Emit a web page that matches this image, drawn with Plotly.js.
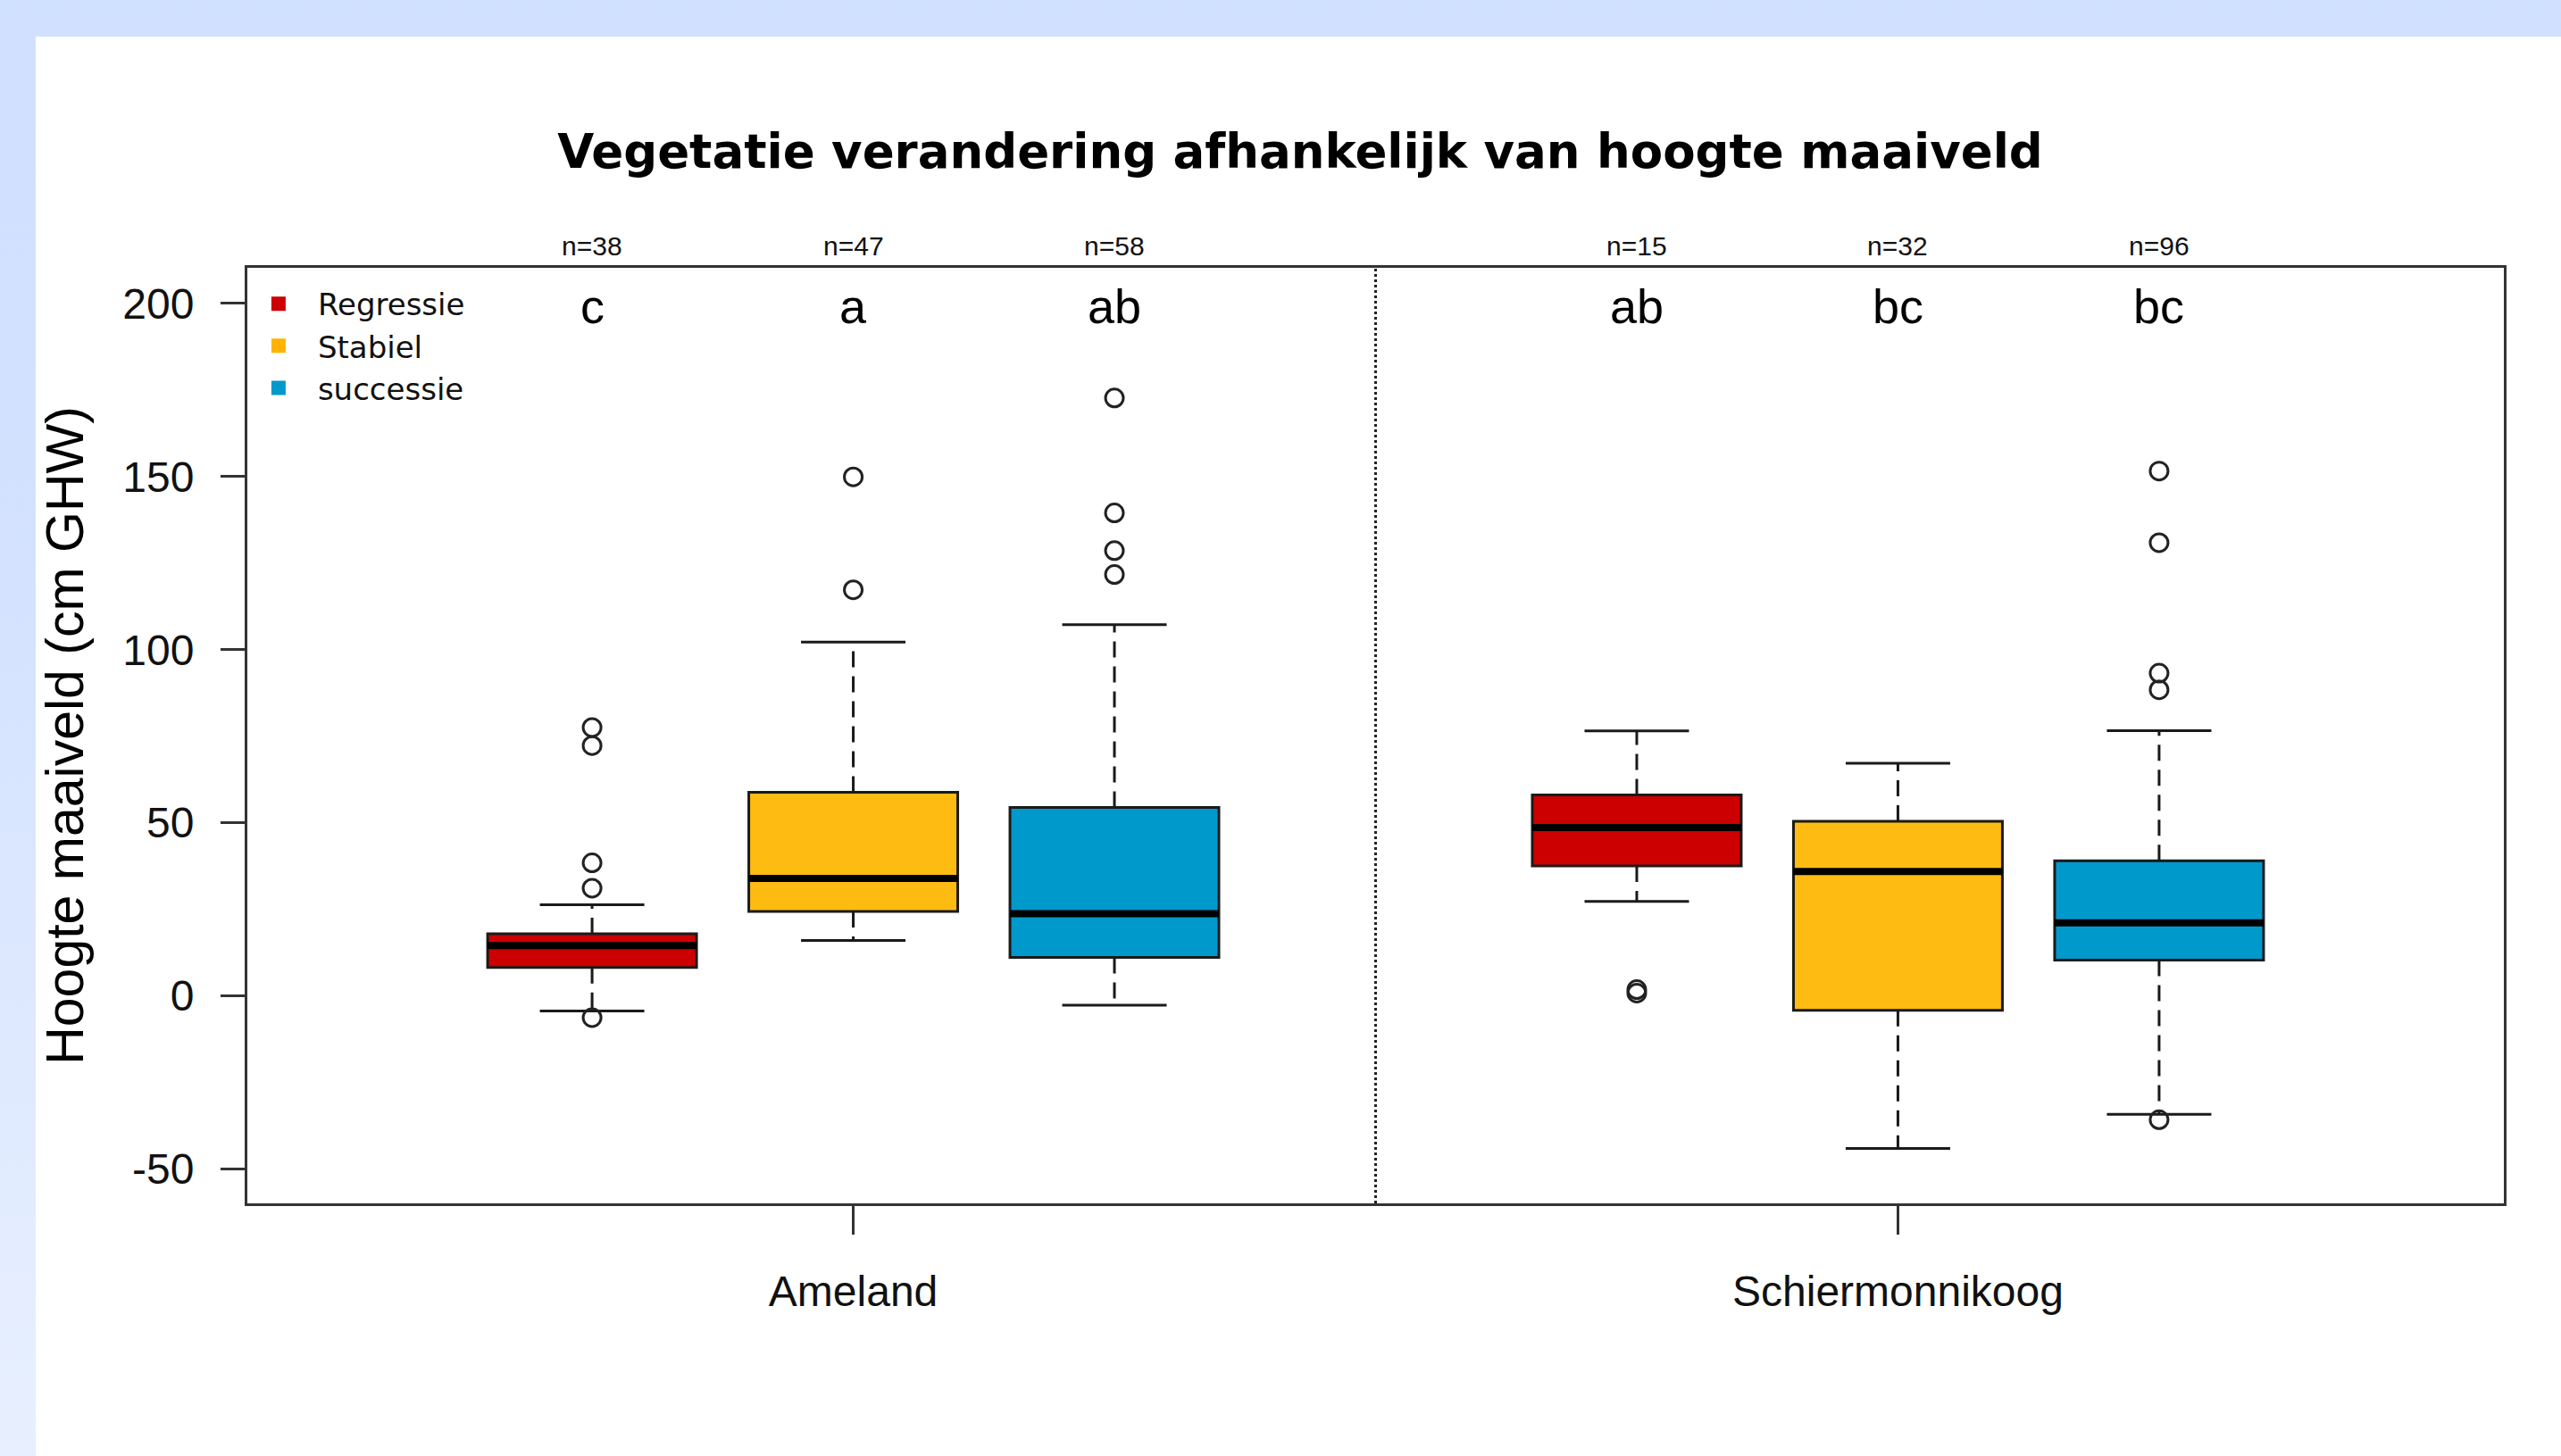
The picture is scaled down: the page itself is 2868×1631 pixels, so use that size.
<!DOCTYPE html>
<html>
<head>
<meta charset="utf-8">
<script src="https://cdn.plot.ly/plotly-3.0.1.min.js"></script>
<style>
  html, body { margin: 0; padding: 0; width: 2868px; height: 1631px; overflow: hidden;
    background: linear-gradient(to bottom, #d0e0ff 0%, #d4e2ff 40%, #e8f0ff 100%); }
  #chart { position: absolute; left: 40px; top: 41px; width: 2828px; height: 1590px; background: #fff; }
</style>
</head>
<body>
<div id="chart"></div>
<script>
// ---- data ----
const classes = ['Regressie', 'Stabiel', 'successie'];
const islands = ['Ameland', 'Schiermonnikoog'];
// rows = classes, columns = islands
const lowerWhisker = [[-4.4, 27.3], [16.0, -44.1], [-2.7, -34.2]];
const q1           = [[8.2, 37.5], [24.4, -4.2], [11.1, 10.3]];
const median       = [[14.5, 48.6], [33.9, 35.9], [23.7, 21.1]];
const q3           = [[17.9, 58.0], [58.8, 50.4], [54.4, 39.0]];
const upperWhisker = [[26.3, 76.5], [102.2, 67.2], [107.2, 76.6]];
const outliers = [
  [[77.5, 72.3, 38.4, 31.1, -6.3], [1.8, 0.8]],
  [[149.9, 117.3], []],
  [[172.7, 139.5, 128.6, 121.7], [151.6, 130.9, 93.2, 88.4, -35.8]]
];
const nObs = [[38, 15], [47, 32], [58, 96]];
const letters = [['c', 'ab'], ['a', 'bc'], ['ab', 'bc']];
const yTicks = [-50, 0, 50, 100, 150, 200];

// ---- styling ----
const colors = ['#CC0000', '#FEBB12', '#0099CC'];
const legendColors = ['#CC0000', '#FFB300', '#0099CC'];
const boxWidth = 0.8;
const capHalf = 0.2;
const sans = 'Liberation Sans, Arial, sans-serif';
const verd = 'DejaVu Sans, Verdana, sans-serif';

function pos(ci, ii) { return ii * (classes.length + 1) + 1 + ci; }
const islandPos = islands.map((_, ii) => ii * (classes.length + 1) + 1 + (classes.length - 1) / 2);

const traces = [];
// boxes (drawn first so that scatter overlays sit above)
classes.forEach((c, ci) => {
  traces.push({
    type: 'box', name: c, showlegend: false,
    x: islands.map((_, ii) => pos(ci, ii)),
    q1: q1[ci], median: median[ci], q3: q3[ci],
    lowerfence: q1[ci], upperfence: q3[ci],
    width: boxWidth, whiskerwidth: 0,
    fillcolor: colors[ci],
    line: { color: '#1a1a1a', width: 3 },
    boxpoints: false, hoverinfo: 'skip'
  });
});

// dashed whiskers, caps, medians, outliers
const wx = [], wy = [], cx = [], cy = [], mx = [], my = [], ox = [], oy = [];
classes.forEach((c, ci) => {
  islands.forEach((isl, ii) => {
    const p = pos(ci, ii);
    wx.push(p, p, null, p, p, null);
    wy.push(q3[ci][ii], upperWhisker[ci][ii], null, q1[ci][ii], lowerWhisker[ci][ii], null);
    cx.push(p - capHalf, p + capHalf, null, p - capHalf, p + capHalf, null);
    cy.push(upperWhisker[ci][ii], upperWhisker[ci][ii], null, lowerWhisker[ci][ii], lowerWhisker[ci][ii], null);
    mx.push(p - boxWidth / 2, p + boxWidth / 2, null);
    my.push(median[ci][ii], median[ci][ii], null);
    outliers[ci][ii].forEach(v => { ox.push(p); oy.push(v); });
  });
});
traces.push({ type: 'scatter', mode: 'lines', x: wx, y: wy, showlegend: false, hoverinfo: 'skip',
  line: { color: '#1a1a1a', width: 3, dash: '18px,10px' } });
traces.push({ type: 'scatter', mode: 'lines', x: cx, y: cy, showlegend: false, hoverinfo: 'skip',
  line: { color: '#1a1a1a', width: 3 } });
traces.push({ type: 'scatter', mode: 'lines', x: mx, y: my, showlegend: false, hoverinfo: 'skip',
  line: { color: '#000', width: 8 } });
traces.push({ type: 'scatter', mode: 'markers', x: ox, y: oy, showlegend: false, hoverinfo: 'skip',
  marker: { symbol: 'circle-open', size: 20, color: '#222', line: { width: 3, color: '#222' } } });
// legend entries
classes.forEach((c, ci) => {
  traces.push({ type: 'scatter', mode: 'markers', name: c, x: [null], y: [null],
    marker: { symbol: 'square', size: 16, color: legendColors[ci] } });
});

// annotations: n= and letters
const annotations = [];
classes.forEach((c, ci) => {
  islands.forEach((isl, ii) => {
    annotations.push({ x: pos(ci, ii), xref: 'x', y: 1.023, yref: 'paper', yanchor: 'middle',
      text: 'n=' + nObs[ci][ii], showarrow: false, font: { family: sans, size: 30, color: '#111' } });
    annotations.push({ x: pos(ci, ii), xref: 'x', y: 0.959, yref: 'paper', yanchor: 'middle',
      text: letters[ci][ii], showarrow: false, font: { family: sans, size: 54, color: '#000' } });
  });
});

const layout = {
  width: 2828, height: 1590,
  margin: { l: 237, r: 64, t: 259, b: 283 },
  paper_bgcolor: '#ffffff', plot_bgcolor: '#ffffff',
  showlegend: true,
  boxmode: 'overlay',
  title: { text: 'Vegetatie verandering afhankelijk van hoogte maaiveld',
    font: { family: verd, size: 53, weight: 'bold', color: '#000' },
    xref: 'container', x: 0.5007, xanchor: 'center', yref: 'container', y: 0.919, yanchor: 'middle' },
  xaxis: {
    range: [-0.32, 8.32], showgrid: false, zeroline: false,
    tickmode: 'array', tickvals: islandPos, ticktext: islands,
    ticks: 'outside', ticklen: 32, tickwidth: 3, tickcolor: '#333', ticklabelstandoff: 22,
    showline: true, linecolor: '#333', linewidth: 3, mirror: true,
    tickfont: { family: sans, size: 48, color: '#111' }
  },
  yaxis: {
    range: [-59.95, 210.3], showgrid: false, zeroline: false,
    tickmode: 'array', tickvals: yTicks, ticktext: yTicks.map(String),
    ticks: 'outside', ticklen: 27, tickwidth: 3, tickcolor: '#333', ticklabelstandoff: 20,
    showline: true, linecolor: '#333', linewidth: 3, mirror: true,
    tickfont: { family: sans, size: 48, color: '#111' },
    title: { text: 'Hoogte maaiveld (cm GHW)', font: { family: sans, size: 59, color: '#000' }, standoff: 49 }
  },
  legend: { x: -0.0036, xanchor: 'left', y: 0.989, yanchor: 'top', bgcolor: 'rgba(0,0,0,0)',
    font: { family: verd, size: 34, color: '#111' }, itemwidth: 78, tracegroupgap: 0 },
  shapes: [{ type: 'line', xref: 'x', yref: 'paper',
    x0: (islandPos[0] + islandPos[1]) / 2, x1: (islandPos[0] + islandPos[1]) / 2, y0: 0, y1: 1,
    line: { color: '#222', width: 3, dash: 'dot' } }],
  annotations: annotations
};

Plotly.newPlot('chart', traces, layout, { displayModeBar: false, staticPlot: true });
</script>
</body>
</html>
